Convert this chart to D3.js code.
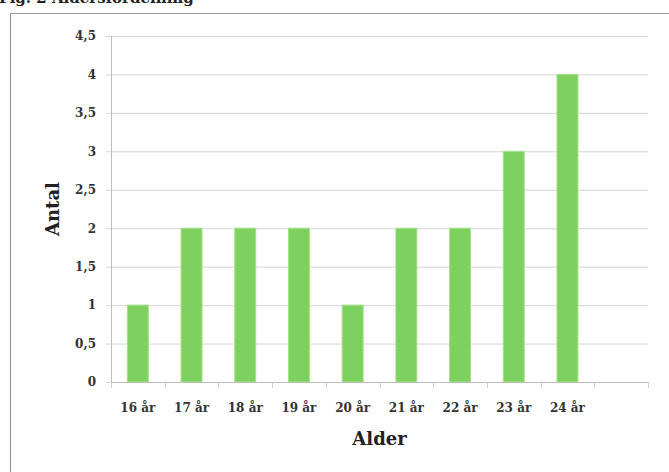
<!DOCTYPE html>
<html>
<head>
<meta charset="utf-8">
<script src="https://cdn.jsdelivr.net/npm/d3@7"></script>
<style>
  html, body { margin: 0; padding: 0; background: #fff; }
  svg { display: block; }
</style>
</head>
<body>
<svg id="chart" width="669" height="472"></svg>
<script>
// Age distribution: number of respondents per age
const categories = ["16 år", "17 år", "18 år", "19 år", "20 år", "21 år", "22 år", "23 år", "24 år"];
const counts = [1, 2, 2, 2, 1, 2, 2, 3, 4];
const yTicks = [0, 0.5, 1, 1.5, 2, 2.5, 3, 3.5, 4, 4.5];
const title = "Fig. 2 Åldersfördelning";
const xTitle = "Alder";
const yTitle = "Antal";

const svg = d3.select("#chart");
const W = 669, H = 472;
const plot = { left: 111, right: 648, top: 36, bottom: 382 };
const serif = "'DejaVu Serif', 'Liberation Serif', serif";

// Figure caption, partly cut by the top edge
svg.append("text")
  .attr("x", -1).attr("y", 3)
  .attr("font-family", serif).attr("font-weight", "bold").attr("font-size", 15)
  .attr("fill", "#222")
  .text(title);

// Chart area frame
svg.append("path")
  .attr("d", `M10.5,${H} V13.5 H${W}`)
  .attr("fill", "none").attr("stroke", "#9a9a9a").attr("stroke-width", 1.2);

// Category slots: one extra empty slot after the last age
const slots = categories.concat([""]);
const x = d3.scaleBand().domain(slots).range([plot.left, plot.right]).padding(0);
const y = d3.scaleLinear().domain([0, 4.5]).range([plot.bottom, plot.top]);
const fmt = d => d3.format(".1~f")(d).replace(".", ",");

// Horizontal gridlines with left ticks
const yAxis = d3.axisLeft(y).tickValues(yTicks).tickFormat(fmt)
  .tickSize(-(plot.right - plot.left) - 0).tickPadding(15);
const gy = svg.append("g").attr("transform", `translate(${plot.left},0)`).call(yAxis);
gy.select(".domain").remove();
gy.selectAll(".tick line")
  .attr("x1", -5).attr("x2", plot.right - plot.left)
  .attr("stroke", "#d6d6d6");
gy.selectAll(".tick text")
  .attr("x", -15)
  .attr("font-family", serif).attr("font-weight", "bold").attr("font-size", 12)
  .attr("fill", "#333");

// Vertical axis line
svg.append("line")
  .attr("x1", plot.left + 0.5).attr("x2", plot.left + 0.5)
  .attr("y1", plot.top).attr("y2", plot.bottom)
  .attr("stroke", "#bdbdbd");

// Bars
const barW = x.bandwidth() * 0.39;
svg.append("g").selectAll("rect")
  .data(categories.map((c, i) => ({ c, v: counts[i] })))
  .join("rect")
  .attr("x", d => x(d.c) + (x.bandwidth() - barW) / 2)
  .attr("y", d => y(d.v))
  .attr("width", barW)
  .attr("height", d => y(0) - y(d.v))
  .attr("fill", "#7fd15f")
  .attr("stroke", "#a6e08a").attr("stroke-width", 1);

// Horizontal axis: baseline, slot boundary ticks and labels
svg.append("line")
  .attr("x1", plot.left).attr("x2", plot.right)
  .attr("y1", plot.bottom + 0.5).attr("y2", plot.bottom + 0.5)
  .attr("stroke", "#bdbdbd");
const bounds = slots.map(s => x(s)).concat([x(slots[slots.length - 1]) + x.bandwidth()]);
svg.append("g").selectAll("line")
  .data(bounds).join("line")
  .attr("x1", d => Math.round(d) + 0.5).attr("x2", d => Math.round(d) + 0.5)
  .attr("y1", plot.bottom).attr("y2", plot.bottom + 6)
  .attr("stroke", "#cfcfcf");
svg.append("g").selectAll("text")
  .data(categories).join("text")
  .attr("x", d => x(d) + x.bandwidth() / 2)
  .attr("y", 412)
  .attr("text-anchor", "middle")
  .attr("font-family", serif).attr("font-weight", "bold").attr("font-size", 12)
  .attr("fill", "#333")
  .text(d => d);

// Axis titles
svg.append("text")
  .attr("x", (plot.left + plot.right) / 2).attr("y", 445)
  .attr("text-anchor", "middle")
  .attr("font-family", serif).attr("font-weight", "bold").attr("font-size", 18)
  .attr("fill", "#222")
  .text(xTitle);
svg.append("text")
  .attr("transform", `translate(59,${(plot.top + plot.bottom) / 2}) rotate(-90)`)
  .attr("text-anchor", "middle")
  .attr("font-family", serif).attr("font-weight", "bold").attr("font-size", 18)
  .attr("fill", "#222")
  .text(yTitle);
</script>
</body>
</html>
